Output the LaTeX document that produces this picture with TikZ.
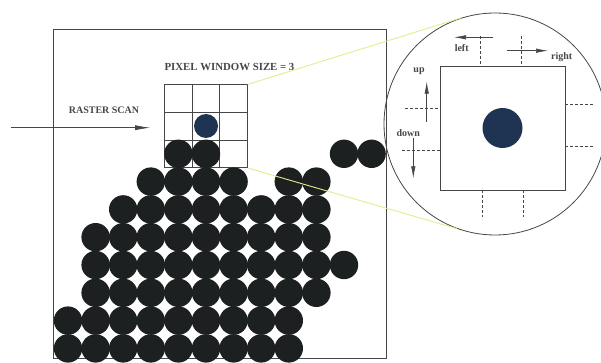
\documentclass[tikz,border=0pt]{standalone}
\usepackage{fontspec}
\setmainfont{Liberation Serif}
\usetikzlibrary{arrows.meta}

\definecolor{inkgray}{RGB}{70,70,70}
\definecolor{dotblack}{RGB}{28,32,32}
\definecolor{dotblue}{RGB}{30,52,82}
\definecolor{guideyellow}{RGB}{232,234,140}

\begin{document}
\begin{tikzpicture}[x=1pt,y=-1pt,
    frame/.style={draw=inkgray, line width=0.8pt},
    tick/.style={draw=inkgray, line width=0.6pt, dash pattern=on 3pt off 2pt},
    move/.style={draw=inkgray, line width=0.7pt, -{Latex[length=12pt,width=4.5pt]}},
    lbl/.style={font=\bfseries\fontsize{10}{12}\selectfont, text=inkgray, inner sep=0pt},
    tag/.style={font=\bfseries\fontsize{10}{12}\selectfont, text=inkgray, inner sep=0pt}]
  \useasboundingbox (0,0) rectangle (601,363);

  % --- lattice of pixels (pixel units) ---
  \def\xo{68}    % x of column 0
  \def\yo{153.8} % y of row 0
  \def\s{27.6}   % column spacing
  \def\t{27.8}   % row spacing
  \def\rad{14.2} % pixel radius

  % --- image frame ---
  \draw[frame] (53,29) rectangle (386,358);

  % --- pixel window (3 x 3) ---
  \node[frame, minimum size=82.8pt, inner sep=0pt] (win) at (206,126.2) {};
  \foreach \k in {1,2} {
    \draw[frame] (164.6+\k*\s,84.8) -- (164.6+\k*\s,167.6);
    \draw[frame] (164.6,84.8+\k*\s) -- (247.4,84.8+\k*\s);
  }
  \node[lbl, font=\bfseries\fontsize{10.8}{12}\selectfont] (title) at (229.5,67) {PIXEL WINDOW SIZE = 3};

  % --- raster scan ---
  \node[lbl] (scan) at (104,110) {RASTER SCAN};
  \coordinate (scanstart) at (11,127.7);
  \draw[move, -{Latex[length=15pt,width=5pt]}, shorten >=14pt] (scanstart) -- (scanstart -| win.west);

  % --- pixels: row / first column / last column ---
  \foreach \r/\a/\b in {0/4/5, 0/10/11, 1/3/6, 1/8/9, 2/2/9, 3/1/9,
                        4/1/10, 5/1/9, 6/0/8, 7/0/8} {
    \foreach \c in {\a,...,\b} {
      \fill[dotblack] (\xo+\c*\s,\yo+\r*\t) circle (\rad);
    }
  }
  \fill[dotblue] (206,126) circle (12);

  % --- magnified view ---
  \node[circle, draw=inkgray, line width=0.8pt, minimum size=222pt, inner sep=0pt] (lens) at (495,124) {};
  \draw[guideyellow, line width=0.9pt] (win.north east) -- (lens.108);
  \draw[guideyellow, line width=0.9pt] (win.south east) -- (lens.250);

  \node[frame, minimum width=125pt, minimum height=124pt, inner sep=0pt] (box) at (502.5,128) {};
  \fill[dotblue] (box.center) circle (20);

  % --- neighbour ticks ---
  \foreach \x in {480,521} {
    \draw[tick] (\x,36) -- (\x,66);
    \draw[tick] (\x+2.5,190) -- (\x+2.5,217);
  }
  \foreach \y in {104,146} {
    \draw[tick] (565,\y) -- (594,\y);
  }
  \draw[tick] (405,108.3) -- (440,108.3);
  \draw[tick] (401.7,150) -- (440,150);

  % --- scan directions ---
  \draw[move] (493,37.3) -- (454,37.3);
  \draw[move] (507,50.7) -- (548,50.7);
  \draw[move] (426.7,121.7) -- (426.7,81.7);
  \draw[move] (413.3,138.3) -- (413.3,178.3);
  \node[tag] (leftlbl) at (461.7,48.3) {left};
  \node[tag] (rightlbl) at (561.7,56.7) {right};
  \node[tag] (uplbl) at (419,71) {up};
  \node[tag] (downlbl) at (408.3,133.3) {down};
\end{tikzpicture}
\end{document}
